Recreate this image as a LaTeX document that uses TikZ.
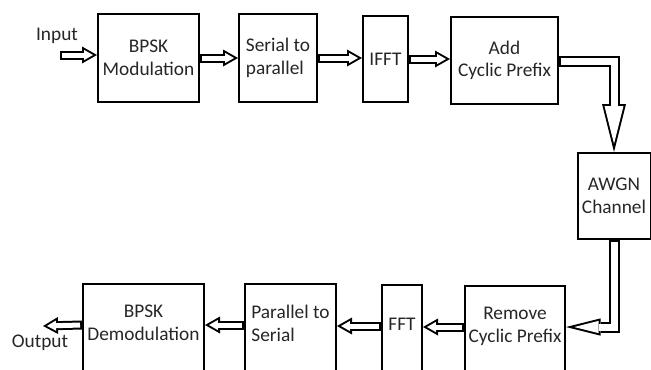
\documentclass[tikz,border=0pt]{standalone}
\usepackage{fontspec}
\setmainfont{Carlito}
\usetikzlibrary{arrows.meta,positioning}

\begin{document}
\begin{tikzpicture}[x=0.75pt,y=-0.75pt,font=\fontsize{14.5}{17}\selectfont]
	\tikzstyle{block}=[draw,line width=1.5pt,inner sep=2pt,align=center,text=black!85]
	% hollow arrows: black outline first, white inside on top
	\tikzstyle{flow}=[draw=white,line width=3.75pt,shorten <=1.5pt,shorten >=3pt,
		-{Triangle[length=6.7pt,width=7.6pt,line width=0pt]},
		preaction={draw=black,line width=6.75pt,shorten <=0pt,shorten >=0pt,-{Triangle[length=11.25pt,width=12.75pt,line width=0pt]}}]
	\tikzstyle{downflow}=[draw=white,line width=5.25pt,shorten <=1.5pt,shorten >=6.2pt,
		-{Triangle[length=28.3pt,width=14.2pt,line width=0pt]},
		preaction={draw=black,line width=8.25pt,shorten <=0pt,shorten >=0pt,-{Triangle[length=36pt,width=18pt,line width=0pt]}}]
	\tikzstyle{sideflow}=[draw=white,line width=5.25pt,shorten <=1.5pt,shorten >=6.2pt,
		-{Triangle[length=18.3pt,width=9.2pt,line width=0pt]},
		preaction={draw=black,line width=8.25pt,shorten <=0pt,shorten >=0pt,-{Triangle[length=26pt,width=13pt,line width=0pt]}}]
	\useasboundingbox (0,0) rectangle (651,369);
	\clip (0,0) rectangle (651,369);

	% transmitter
	\node[block,minimum width=75.75pt,minimum height=66pt] (bpsk) at (148.5,58) {BPSK\\Modulation};
	\node[block,align=left,minimum width=58.5pt,minimum height=66pt] (ser) at (278,58) {Serial to\\parallel};
	\node[block,minimum width=33.75pt,minimum height=64.5pt] (ifft) at (385.5,59) {IFFT};
	\node[block,minimum width=80.25pt,minimum height=65.25pt] (acp) at (504.5,60.5) {Add\\Cyclic Prefix};
	\node[block,minimum width=54.75pt,minimum height=64.5pt] (awgn) at (614,196) {AWGN\\Channel};

	% receiver
	\node[block,anchor=north,text depth=9pt,minimum width=75pt,minimum height=67.5pt] (rcp) at (515,285) {Remove\\Cyclic Prefix};
	\node[block,anchor=north,text depth=9pt,minimum width=30pt,minimum height=67.5pt] (fft) at (402,284) {FFT};
	\node[block,anchor=north,text depth=9pt,align=left,minimum width=68.25pt,minimum height=67.5pt] (par) at (290.5,283) {Parallel to\\Serial};
	\node[block,anchor=north,text depth=9pt,minimum width=90.75pt,minimum height=67.5pt] (bpskd) at (143.5,283) {BPSK\\Demodulation};

	\node[text=black!85] (inlab) at (57,36) {Input};
	\node[text=black!85] (outlab) at (40,343) {Output};
	\coordinate (in) at (60,55);
	\coordinate (out) at (43,326);

	\draw[flow] (in) -- (in -| bpsk.west);
	\draw[flow] (bpsk.east) -- (bpsk.east -| ser.west);
	\draw[flow] (ser.east) -- (ser.east -| ifft.west);
	\draw[flow] (ifft.east) -- (ifft.east -| acp.west);
	\draw[downflow] ([yshift=-1pt]acp.east) -| (awgn.north);
	\draw[sideflow] (awgn.south) |- ([yshift=3pt]rcp.west -| rcp.east);
	\draw[flow] ([yshift=3pt]rcp.west) -- ([yshift=3pt]rcp.west -| fft.east);
	\draw[flow] ([yshift=3pt]fft.west) -- ([yshift=3pt]fft.west -| par.east);
	\draw[flow] ([yshift=3pt]par.west) -- ([yshift=3pt]par.west -| bpskd.east);
	\draw[flow] ([yshift=3pt]bpskd.west) -- (out);
\end{tikzpicture}
\end{document}
